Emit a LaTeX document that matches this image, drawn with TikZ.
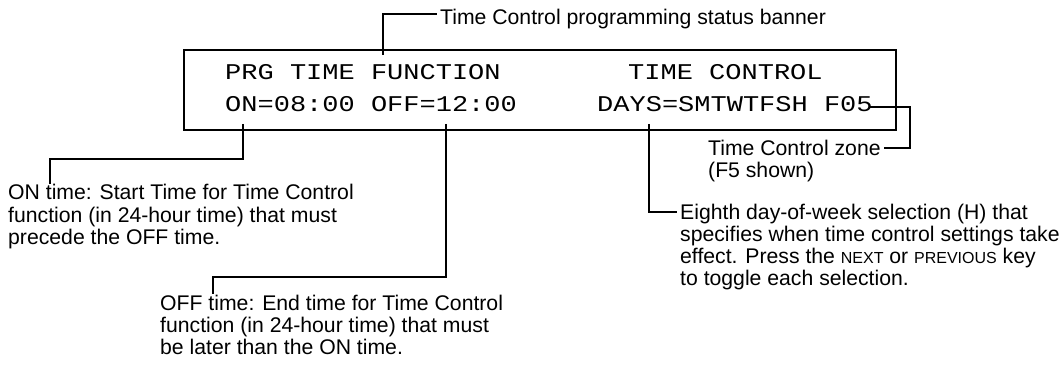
\documentclass[tikz,border=0pt]{standalone}
\usepackage{fontspec}
\setmainfont{Liberation Sans}
\newfontfamily\lcdfont[FakeStretch=1.2]{Liberation Mono}
\begin{document}
\begin{tikzpicture}[x=1pt,y=-1pt,
  lcdbox/.style={draw, line width=2.2pt, inner sep=0pt, anchor=north west},
  lcdtext/.style={font=\lcdfont\fontsize{22.5}{22.5}\selectfont, inner sep=0pt, anchor=base west},
  ann/.style={font=\fontsize{21.2}{22}\selectfont, inner sep=0pt, align=left, anchor=base west},
  lead/.style={line width=1.7pt},
  thinlead/.style={line width=1.2pt}]
\useasboundingbox (0,0) rectangle (1063,366);
% LCD display
\node[lcdbox, minimum width=712pt, minimum height=80pt] (lcd) at (183,49) {};
\node[lcdtext] (prg) at (225,80) {PRG TIME FUNCTION};
\node[lcdtext] (tc) at (628,80) {TIME CONTROL};
\node[lcdtext] (onoff) at (225,112) {ON=08:00 OFF=12:00};
\node[lcdtext] (days) at (597,112) {DAYS=SMTWTFSH F05};
% annotations (anchor = baseline of the last line)
\node[ann] (banner) at (440,25) {Time Control programming status banner};
\node[ann] (ontext) at (8,244) {ON time: Start Time for Time Control\\function (in 24-hour time) that must\\precede the OFF time.};
\node[ann] (offtext) at (160,354) {OFF time: End time for Time Control\\function (in 24-hour time) that must\\be later than the ON time.};
\node[ann] (zone) at (708,178) {Time Control zone\\(F5 shown)};
\node[ann] (eighth) at (680,285) {Eighth day-of-week selection (H) that\\specifies when time control settings take\\effect. Press the {\fontsize{16}{16}\selectfont NEXT} or {\fontsize{16}{16}\selectfont PREVIOUS} key\\to toggle each selection.};
% leader points
\coordinate (bannerTail) at (383,55);
\coordinate (bannerEnd) at (437,14);
\coordinate (onTail) at (243,124);
\coordinate (onEnd) at (50,184);
\coordinate (offTail) at (446,124);
\coordinate (offEnd) at (213,294);
\coordinate (daysTail) at (649,124);
\coordinate (daysEnd) at (677,212);
\coordinate (zoneTail) at (870,107);
\coordinate (zoneEnd) at (884,148);
% leaders
\draw[lead] (bannerTail) |- (bannerEnd);
\draw[lead] (onTail) -- (243,159) -| (onEnd);
\draw[lead] (offTail) -- (446,277) -| (offEnd);
\draw[lead] (daysTail) |- (daysEnd);
\draw[thinlead] (zoneTail) -| (910,148) -- (zoneEnd);
\end{tikzpicture}
\end{document}
